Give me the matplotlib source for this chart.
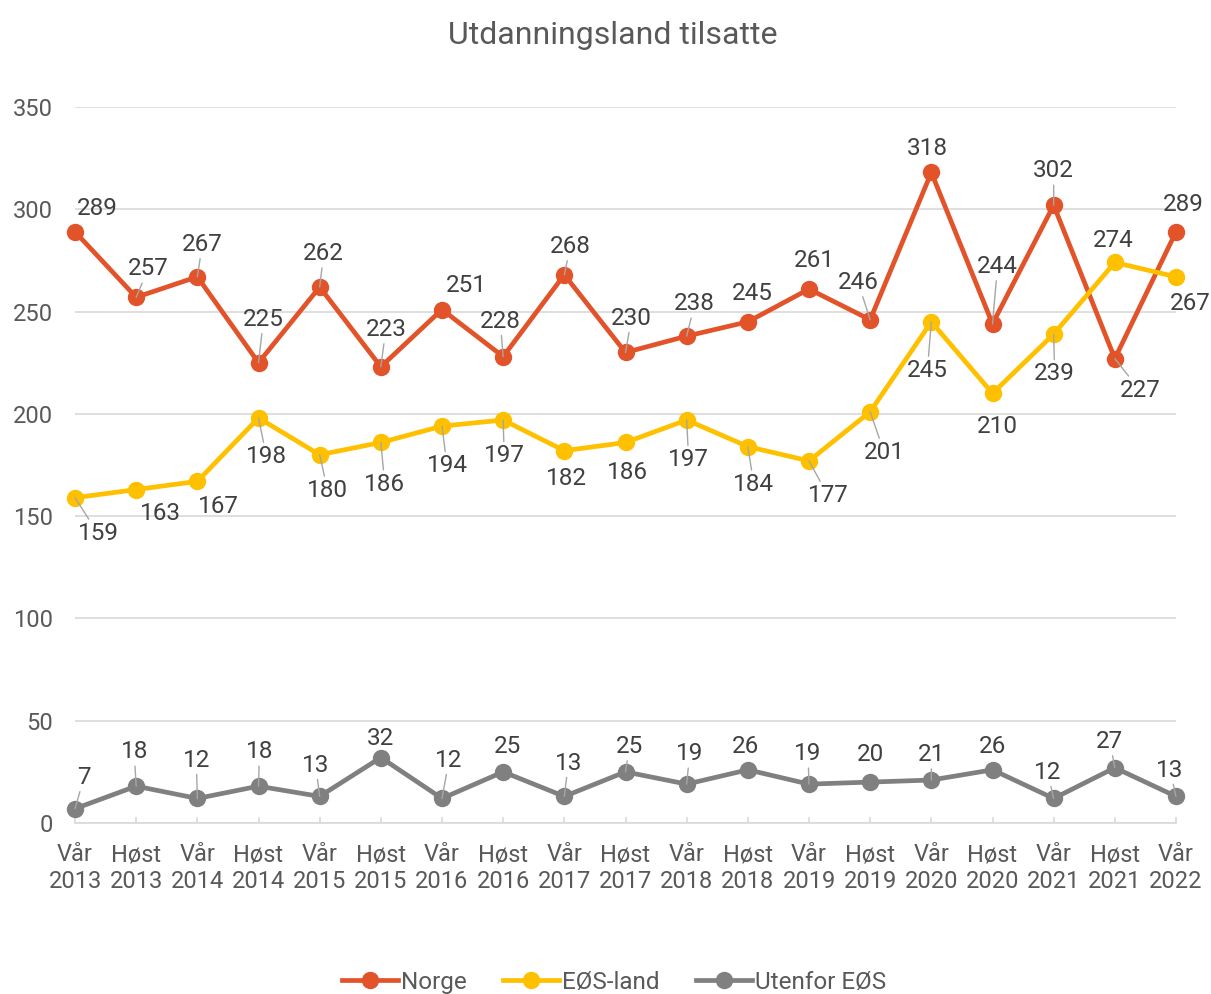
import matplotlib
matplotlib.use('Agg')
import matplotlib.pyplot as plt

plt.rcParams['font.family'] = ['Roboto', 'DejaVu Sans']

perioder = ['Vår\n2013', 'Høst\n2013', 'Vår\n2014', 'Høst\n2014', 'Vår\n2015',
            'Høst\n2015', 'Vår\n2016', 'Høst\n2016', 'Vår\n2017', 'Høst\n2017',
            'Vår\n2018', 'Høst\n2018', 'Vår\n2019', 'Høst\n2019', 'Vår\n2020',
            'Høst\n2020', 'Vår\n2021', 'Høst\n2021', 'Vår\n2022']
norge = [289, 257, 267, 225, 262, 223, 251, 228, 268, 230, 238, 245, 261, 246, 318, 244, 302, 227, 289]
eos = [159, 163, 167, 198, 180, 186, 194, 197, 182, 186, 197, 184, 177, 201, 245, 210, 239, 274, 267]
utenfor = [7, 18, 12, 18, 13, 32, 12, 25, 13, 25, 19, 26, 19, 20, 21, 26, 12, 27, 13]

# etikett-plassering (piksler, x høyre / y ned) og om det er en hjelpelinje
norge_off = [(22, -25), (12, -30), (5, -34), (5, -45), (4, -35), (5, -39), (24, -26), (-3, -37),
             (6, -30), (6, -36), (8, -34), (4, -30), (5, -30), (-12, -39), (-4, -26), (5, -59),
             (0, -36), (25, 30), (7, -29)]
norge_lead = [0, 1, 1, 1, 1, 1, 0, 1, 1, 1, 1, 0, 0, 1, 0, 1, 1, 1, 0]
eos_off = [(23, 34), (24, 22), (21, 23), (8, 37), (8, 34), (4, 40), (5, 38), (1, 34), (2, 26),
           (2, 28), (2, 38), (6, 36), (19, 33), (14, 39), (-4, 47), (5, 31), (1, 38), (-2, -24),
           (14, 25)]
eos_lead = [1, 0, 0, 1, 1, 1, 1, 1, 0, 0, 1, 1, 1, 1, 1, 0, 1, 0, 0]
utenfor_off = [(9, -33), (-2, -36), (-1, -40), (1, -36), (-4, -33), (0, -21), (7, -40), (4, -27),
               (4, -35), (4, -27), (3, -32), (-2, -25), (-1, -32), (0, -29), (0, -27), (0, -25),
               (-6, -28), (-5, -28), (-6, -28)]
utenfor_lead = [1, 1, 1, 1, 1, 0, 1, 0, 1, 1, 1, 0, 1, 0, 1, 0, 1, 1, 1]

fig = plt.figure(figsize=(12.11, 9.94), dpi=100)
ax = fig.add_axes([75 / 1211, 171 / 994, 1101 / 1211, 716 / 994])

x = list(range(len(perioder)))
serier = [('Norge', norge, '#E2532A', norge_off, norge_lead),
          ('EØS-land', eos, '#FFC000', eos_off, eos_lead),
          ('Utenfor EØS', utenfor, '#808080', utenfor_off, utenfor_lead)]

for navn, verdier, farge, off, lead in serier:
    ax.plot(x, verdier, color=farge, lw=3.4, marker='o', ms=11.5, label=navn,
            clip_on=False, zorder=3, solid_joinstyle='round')
    for i, v in enumerate(verdier):
        dx, dy = off[i]
        ap = dict(arrowstyle='-', color='#A6A6A6', lw=1, shrinkA=0, shrinkB=0) if lead[i] else None
        ax.annotate(str(v), (i, v), xytext=(dx * 0.72, -dy * 0.72 - 1.2), textcoords='offset points',
                    ha='center', va='center', fontsize=17.5, color='#404040',
                    arrowprops=ap, zorder=5, annotation_clip=False)

ax.set_xlim(0, 18)
ax.set_ylim(0, 350)
ax.set_yticks(range(0, 351, 50))
ax.set_xticks(x)
ax.set_xticklabels(perioder, linespacing=1.2)
ax.set_axisbelow(True)
ax.grid(axis='y', color='#D9D9D9', lw=1.2)
for s in ['top', 'right', 'left']:
    ax.spines[s].set_visible(False)
ax.spines['bottom'].set_color('#D9D9D9')
ax.spines['bottom'].set_linewidth(1.2)
ax.tick_params(axis='y', length=0, pad=16, labelsize=17, labelcolor='#595959')
ax.tick_params(axis='x', direction='in', length=4.5, width=1.2, color='#D9D9D9', pad=14.5,
               labelsize=17, labelcolor='#595959')

fig.text(613 / 1211, 1 - 35 / 994, 'Utdanningsland tilsatte', ha='center', va='center',
         fontsize=23, color='#595959')

fig.legend(loc='center', bbox_to_anchor=(0.507, 0.012), ncol=3, frameon=False, fontsize=17.5,
           handlelength=2.3, handletextpad=0.12, columnspacing=1.5, labelcolor='#595959')

fig.savefig('out.png', dpi=100)
